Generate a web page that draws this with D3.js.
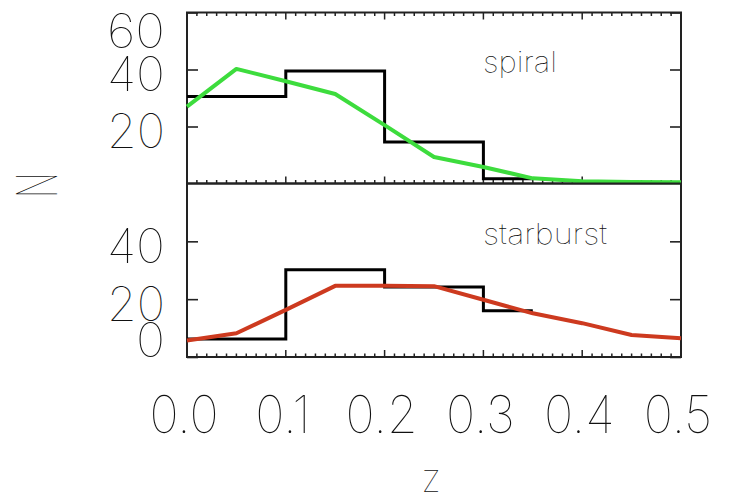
<!DOCTYPE html>
<html>
<head>
<meta charset="utf-8">
<style>
body { margin:0; padding:0; background:#fff; }
svg { display:block; }
text { font-family: Inter, "DejaVu Sans", sans-serif; font-weight:100; fill:#111; }
.frame { fill:none; stroke:#222; stroke-width:2; }
.tick line { stroke:#222; stroke-width:1.6; }
.hist { fill:none; stroke:#000; stroke-width:3; }
.model { fill:none; stroke-width:4; stroke-linejoin:round; }
</style>
<script src="https://cdn.jsdelivr.net/npm/d3@7"></script>
</head>
<body>
<div id="chart"></div>
<script>
// histogram bins (upper edge of the last bin repeats its value)
var histEdges = [0, 0.1, 0.2, 0.3, 0.35];
var spiralHist = [30.5, 39.5, 14.6, 1.7];
var starburstHist = [6.2, 30.2, 24.2, 16];

// model curves, sampled every 0.05 in z
var modelZ = [0, 0.05, 0.1, 0.15, 0.2, 0.25, 0.3, 0.35, 0.4, 0.45, 0.5];
var spiralModel = [27, 40.2, 35.9, 31.4, 20.5, 9.3, 5.8, 1.8, 0.8, 0.5, 0.4];
var starburstModel = [5.7, 8.2, 16.3, 24.6, 24.6, 24.5, 19.8, 15.1, 11.7, 7.6, 6.5];

var xTicks = [0, 0.1, 0.2, 0.3, 0.4, 0.5];
var xTickLabels = ["0.0", "0.1", "0.2", "0.3", "0.4", "0.5"];
var spiralYTicks = [20, 40, 60];
var starburstYTicks = [0, 20, 40];

var W = 729, H = 501;
var left = 187, right = 681;

var svg = d3.select("#chart").append("svg")
  .attr("width", W).attr("height", H);
svg.append("rect").attr("width", W).attr("height", H).attr("fill", "#fff");

var x = d3.scaleLinear().domain([0, 0.5]).range([left, right]);

var panels = [
  { name: "spiral", top: 12.5, bottom: 183.5, hist: spiralHist, model: spiralModel,
    color: "#3ddc3d", ticks: spiralYTicks, labelY: 72, minorUp: true },
  { name: "starburst", top: 183.5, bottom: 357, hist: starburstHist, model: starburstModel,
    color: "#cd3a1f", ticks: starburstYTicks, labelY: 244, minorUp: false }
];

panels.forEach(function(p) {
  var y = d3.scaleLinear().domain([0, 60]).range([p.bottom, p.top]);
  var g = svg.append("g");

  // x ticks, minor every 0.01, pointing inward (the shared middle edge only once)
  var minor = d3.range(0, 0.5001, 0.01);
  var edges = [[p.bottom, -1]];
  if (p.minorUp) edges.push([p.top, 1]);
  edges.forEach(function(e) {
    g.selectAll(null).data(minor).enter().append("line")
      .attr("x1", function(d) { return x(d); })
      .attr("x2", function(d) { return x(d); })
      .attr("y1", e[0])
      .attr("y2", function(d, i) { return e[0] + e[1] * (i % 10 == 0 ? 7 : 3.5); })
      .attr("stroke", "#222").attr("stroke-width", 1.5);
  });

  // y ticks on left and right
  g.append("g").attr("class", "tick").attr("transform", "translate(" + left + ",0)")
    .call(d3.axisRight(y).tickValues(p.ticks).tickSize(11).tickFormat(""))
    .select(".domain").remove();
  g.append("g").attr("class", "tick").attr("transform", "translate(" + right + ",0)")
    .call(d3.axisLeft(y).tickValues(p.ticks).tickSize(11).tickFormat(""))
    .select(".domain").remove();

  // y tick labels, kept inside the panel's vertical span
  g.selectAll(null).data(p.ticks).enter().append("text")
    .attr("x", 165)
    .attr("y", function(d) { return Math.max(p.top + 35, Math.min(p.bottom, y(d) + 21.5)); })
    .attr("text-anchor", "end")
    .attr("font-size", 48)
    .attr("textLength", function(d) { return String(d).length * 29; })
    .attr("lengthAdjust", "spacingAndGlyphs")
    .text(function(d) { return d; });

  g.append("rect").attr("class", "frame")
    .attr("x", left).attr("y", p.top)
    .attr("width", right - left).attr("height", p.bottom - p.top);

  var step = d3.line().curve(d3.curveStepAfter)
    .x(function(d) { return x(d[0]); })
    .y(function(d) { return y(d[1]); });
  var histPts = histEdges.map(function(e, i) { return [e, p.hist[Math.min(i, p.hist.length - 1)]]; });
  g.append("path").attr("class", "hist").attr("d", step(histPts));

  var line = d3.line()
    .x(function(d) { return x(d[0]); })
    .y(function(d) { return y(d[1]); });
  g.append("path").attr("class", "model")
    .attr("stroke", p.color)
    .attr("d", line(modelZ.map(function(z, i) { return [z, p.model[i]]; })));

  g.append("text")
    .attr("x", 483).attr("y", p.labelY)
    .attr("font-size", 28)
    .attr("textLength", p.name == "spiral" ? 74 : 124)
    .attr("lengthAdjust", "spacingAndGlyphs")
    .text(p.name);
});

// z tick labels
svg.selectAll(null).data(xTicks).enter().append("text")
  .attr("transform", function(d) { return "translate(" + (x(d) - 3) + ",433) scale(0.95,1)"; })
  .attr("text-anchor", "middle")
  .attr("font-size", 52)
  .text(function(d, i) { return xTickLabels[i]; });

// axis titles
svg.append("text")
  .attr("transform", "translate(431,492)")
  .attr("text-anchor", "middle")
  .attr("font-size", 30)
  .text("Z");

svg.append("text")
  .attr("transform", "translate(57,185) rotate(-90) scale(0.6,1)")
  .attr("text-anchor", "middle")
  .attr("font-size", 56)
  .text("N");
</script>
</body>
</html>
